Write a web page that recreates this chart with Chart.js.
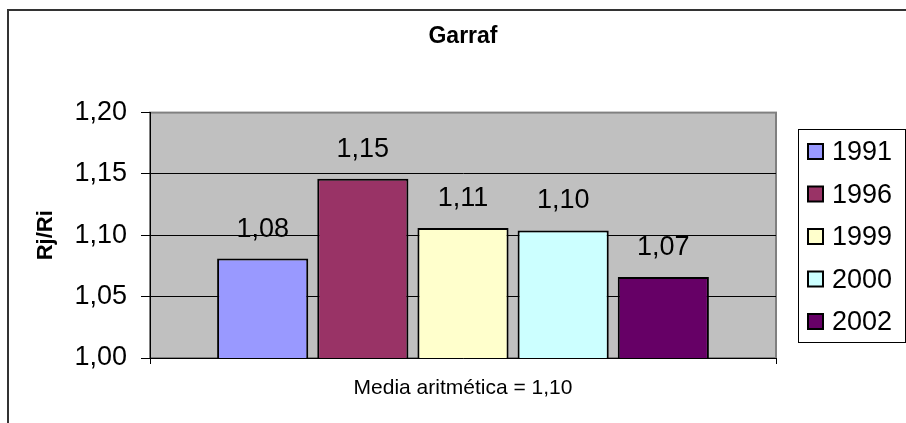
<!DOCTYPE html>
<html>
<head>
<meta charset="utf-8">
<script src="https://cdn.jsdelivr.net/npm/chart.js@4/dist/chart.umd.min.js"></script>
<style>
  html, body { margin: 0; padding: 0; background: #fff; }
  canvas { display: block; }
</style>
</head>
<body>
<canvas id="chart" width="906" height="423"></canvas>
<script>
const FONT = "'Liberation Sans', Arial, sans-serif";

const categories = [""];
const years = ["1991", "1996", "1999", "2000", "2002"];
const values = [1.081, 1.146, 1.106, 1.104, 1.066];
const barColors = ["#9999FF", "#993366", "#FFFFCC", "#CCFFFF", "#660066"];
const yTicks = [1.00, 1.05, 1.10, 1.15, 1.20];
const chartTitle = "Garraf";
const yTitle = "Rj/Ri";
const xTitle = "Media aritmética = 1,10";

const fmt = (v) => v.toFixed(2).replace(".", ",");

// fondo blanco, marco exterior y area de trazado gris
const backgroundPlugin = {
    id: "background",
    beforeDraw(chart) {
        const { ctx, chartArea: a } = chart;
        ctx.save();
        ctx.fillStyle = "#fff";
        ctx.fillRect(0, 0, chart.width, chart.height);
        ctx.strokeStyle = "#333";
        ctx.lineWidth = 2;
        ctx.strokeRect(8, 10, chart.width + 20, chart.height + 20);
        ctx.fillStyle = "#C0C0C0";
        ctx.fillRect(a.left, a.top, a.right - a.left, a.bottom - a.top);
        ctx.strokeStyle = "#808080";
        ctx.lineWidth = 2;
        ctx.strokeRect(a.left, a.top, a.right - a.left, a.bottom - a.top);
        ctx.restore();
    },
};

// etiquetas encima de cada barra
const valueLabels = {
    id: "valueLabels",
    afterDatasetsDraw(chart) {
        const { ctx } = chart;
        ctx.save();
        ctx.font = "27px " + FONT;
        ctx.fillStyle = "#000";
        ctx.textAlign = "center";
        ctx.textBaseline = "alphabetic";
        chart.data.datasets.forEach((ds, i) => {
            const bar = chart.getDatasetMeta(i).data[0];
            if (!bar) return;
            ctx.fillText(fmt(ds.data[0]), bar.x, bar.y - 22);
        });
        ctx.restore();
    },
};

// leyenda a la derecha, estilo Excel
const sideLegend = {
    id: "sideLegend",
    afterDraw(chart) {
        const { ctx } = chart;
        ctx.save();
        ctx.fillStyle = "#fff";
        ctx.fillRect(798.5, 129.5, 107, 213);
        ctx.strokeStyle = "#000";
        ctx.lineWidth = 1;
        ctx.strokeRect(798.5, 129.5, 107, 213);
        ctx.font = "27px " + FONT;
        ctx.textBaseline = "middle";
        ctx.textAlign = "left";
        chart.data.datasets.forEach((ds, i) => {
            const cy = 152 + i * 42.5;
            ctx.fillStyle = ds.backgroundColor;
            ctx.fillRect(808, cy - 8, 15, 15);
            ctx.strokeStyle = "#000";
            ctx.lineWidth = 2;
            ctx.strokeRect(808, cy - 8, 15, 15);
            ctx.fillStyle = "#000";
            ctx.fillText(ds.label, 832, cy + 1);
        });
        ctx.restore();
    },
};

new Chart(document.getElementById("chart"), {
    type: "bar",
    data: {
        labels: categories,
        datasets: years.map((y, i) => ({
            label: y,
            data: [values[i]],
            backgroundColor: barColors[i],
            borderColor: "#000",
            borderWidth: 2,
            borderSkipped: false,
            categoryPercentage: 0.8,
            barPercentage: 0.91,
        })),
    },
    options: {
        responsive: false,
        devicePixelRatio: 1,
        animation: false,
        layout: { padding: { left: 0, top: 0, right: 130, bottom: 0 } },
        plugins: {
            legend: { display: false },
            tooltip: { enabled: false },
            title: {
                display: true,
                text: chartTitle,
                fullSize: false,
                color: "#000",
                font: { family: FONT, size: 23, weight: "bold" },
                padding: { top: 23, bottom: 62 },
            },
        },
        scales: {
            x: {
                offset: true,
                grid: {
                    display: true,
                    offset: true,
                    drawOnChartArea: false,
                    drawTicks: true,
                    tickLength: 6,
                    color: "#000",
                },
                border: { display: true, color: "#000", width: 1 },
                ticks: { display: false },
                title: {
                    display: true,
                    text: xTitle,
                    color: "#000",
                    font: { family: FONT, size: 21 },
                    padding: { top: 0, bottom: 22 },
                },
                afterFit: (scale) => { scale.height = 65; },
            },
            y: {
                min: yTicks[0],
                max: yTicks[yTicks.length - 1],
                afterBuildTicks: (scale) => { scale.ticks = yTicks.map(v => ({ value: v })); },
                grid: {
                    color: (c) => (c.tick && c.tick.value > 1.001 && c.tick.value < 1.199) ? "#000" : "rgba(0,0,0,0)",
                    tickColor: "#000",
                    tickLength: 9,
                    lineWidth: 1,
                },
                border: { display: true, color: "#000", width: 1 },
                ticks: {
                    color: "#000",
                    padding: 14,
                    font: { family: FONT, size: 27 },
                    callback: (v) => fmt(v),
                },
                title: {
                    display: true,
                    text: yTitle,
                    color: "#000",
                    font: { family: FONT, size: 22, weight: "bold" },
                    padding: { top: 33, bottom: 0 },
                },
                afterFit: (scale) => { scale.width = 150; },
            },
        },
    },
    plugins: [backgroundPlugin, valueLabels, sideLegend],
});
</script>
</body>
</html>
